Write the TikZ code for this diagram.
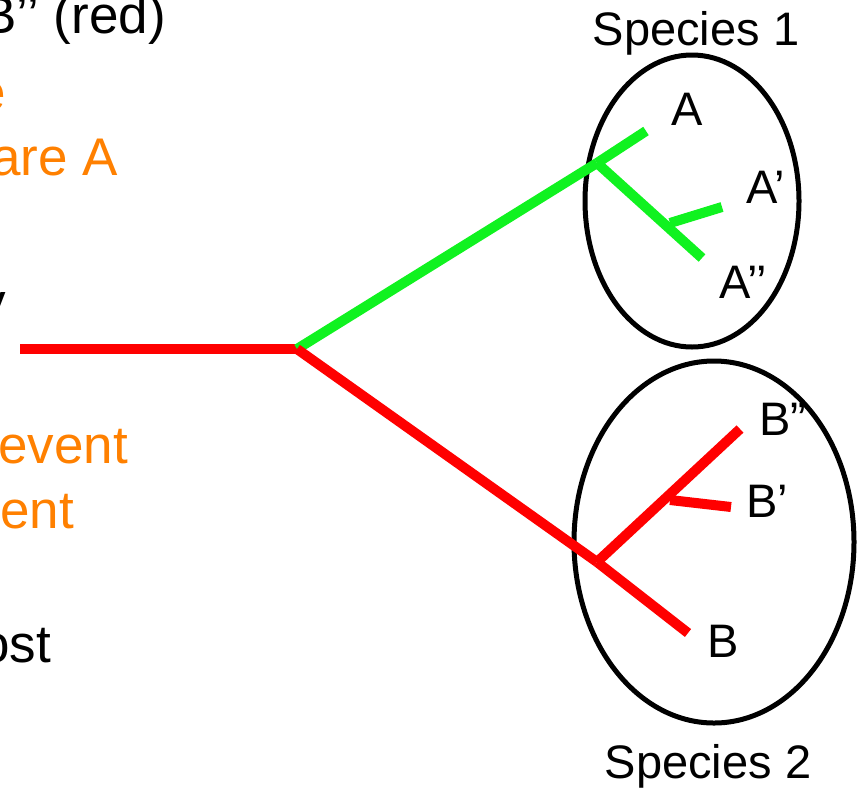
\documentclass[tikz,border=0pt]{standalone}
\usepackage{fontspec}
\setmainfont{Liberation Sans}
\definecolor{treered}{RGB}{255,0,0}
\definecolor{treegreen}{RGB}{16,242,32}
\definecolor{noteorange}{RGB}{255,128,0}
\tikzset{
  lbl/.style={inner sep=0pt, font=\fontsize{47}{56}\selectfont},
  note/.style={inner sep=0pt, anchor=base east, font=\fontsize{53}{64}\selectfont},
  redbranch/.style={draw=treered, line width=10pt},
  greenbranch/.style={draw=treegreen, line width=10pt},
  species/.style={draw=black, line width=5pt}
}
\begin{document}
\begin{tikzpicture}[x=1pt,y=-1pt]
\useasboundingbox (0,0) rectangle (858,788);
\clip (0,0) rectangle (858,788);
% left (clipped) text
\node[note] (t1) at (166,33) {B’’ (red)};
\node[note, text=noteorange] (t2) at (6,110) {e};
\node[note, text=noteorange] (t3) at (118,175) {are A};
\node[note] (t4) at (6,320) {y};
\node[note, text=noteorange] (t5) at (128,463) {event};
\node[note, text=noteorange] (t6) at (74,528) {event};
\node[note] (t7) at (51,662) {ost};
% tree points
\coordinate (start) at (20,349);
\coordinate (root) at (297,349);
\coordinate (ga) at (597,163);
\coordinate (aA) at (646,131);
\coordinate (aApp) at (702,258);
\coordinate (gb) at (670,223);
\coordinate (aAp) at (722,207);
\coordinate (rb) at (597,562);
\coordinate (bB) at (688,633);
\coordinate (bBpp) at (740,429);
\coordinate (rc) at (670,500);
\coordinate (bBp) at (731,507);
% species ellipses
\draw[species] (692,201) ellipse [x radius=107, y radius=146];
\draw[species] (714,542) ellipse [x radius=140, y radius=181];
% branches
\draw[redbranch] (start) -- (root);
\draw[greenbranch] (root) -- (ga);
\draw[greenbranch] (ga) -- (aA);
\draw[greenbranch] (ga) -- (aApp);
\draw[greenbranch] (gb) -- (aAp);
\draw[redbranch] (root) -- (rb);
\draw[redbranch] (rb) -- (bB);
\draw[redbranch] (rb) -- (bBpp);
\draw[redbranch] (rc) -- (bBp);
% labels
\node[lbl, anchor=base] (s1) at (696,45) {Species 1};
\node[lbl, anchor=base west] (lA) at (671,125) {A};
\node[lbl, anchor=base west] (lAp) at (746,203) {A’};
\node[lbl, anchor=base west] (lApp) at (719,298) {A’’};
\node[lbl, anchor=base west] (lBpp) at (759,435) {B”};
\node[lbl, anchor=base west] (lBp) at (746,517) {B’};
\node[lbl, anchor=base west] (lB) at (707,657) {B};
\node[lbl, anchor=base] (s2) at (708,778) {Species 2};
\end{tikzpicture}
\end{document}
